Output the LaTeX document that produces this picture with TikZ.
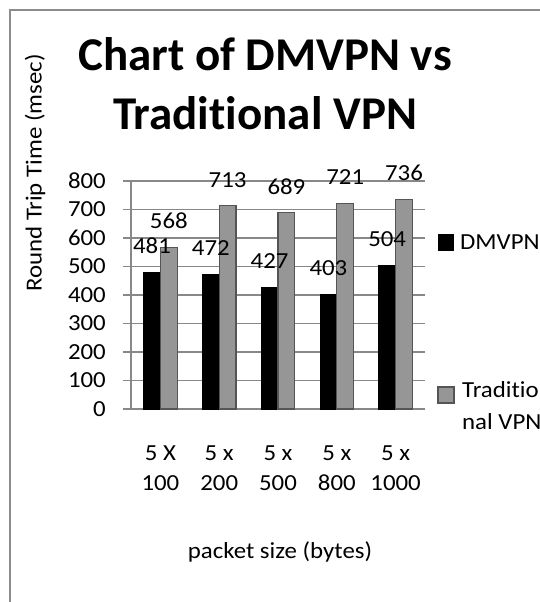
\documentclass[tikz,border=0pt]{standalone}
\usepackage{fontspec}
\setmainfont{Carlito}[Ligatures=NoCommon]
\newfontfamily\chartfont{Carlito}[FakeStretch=1.08, Ligatures=NoCommon]
\usepackage{tikz}

\definecolor{framegray}{HTML}{8C8C8C}
\definecolor{gridgray}{HTML}{888888}
\definecolor{bargray}{HTML}{969696}
\definecolor{edgegray}{HTML}{555555}

\tikzset{
	lbl/.style={font=\chartfont\fontsize{23}{28}\selectfont, inner sep=0pt},
	dmbar/.style={fill=black, draw=black, line width=0.8pt},
	tvbar/.style={fill=bargray, draw=edgegray, line width=1.2pt},
	grid line/.style={draw=gridgray, line width=1.5pt}
}

\begin{document}
\begin{tikzpicture}[x=1pt, y=-1pt]
	\clip (0,0) rectangle (540,602);
	\fill[white] (0,0) rectangle (540,602);
	% outer chart frame (runs off the right and bottom)
	\draw[framegray, line width=2pt] (10,10) rectangle (580,650);
	% title and axis titles
	\node[font=\fontsize{47}{59}\selectfont\bfseries, align=center] (title) at (265,84) {Chart of DMVPN vs\\Traditional VPN};
	\node[lbl, rotate=90] (ytitle) at (35,173) {Round Trip Time (msec)};
	\node[lbl] (xtitle) at (280,552) {packet size (bytes)};
	% plot area: one unit across = one group, one unit up = 1 msec
	\begin{scope}[shift={(131,409)}, x=58.8pt, y=0.285pt]
		\foreach \v in {0,100,...,800}{
			\draw[grid line] (-0.136,\v) -- (5,\v);
			\node[lbl, anchor=east] (tick\v) at ([xshift=-25pt]0,\v) {\v};
		}
		\draw[grid line] (0,0) -- (0,800);
		% DMVPN bars
		\draw[dmbar] (0.214,0) rectangle (0.5,481);
		\draw[dmbar] (1.214,0) rectangle (1.5,472);
		\draw[dmbar] (2.214,0) rectangle (2.5,427);
		\draw[dmbar] (3.214,0) rectangle (3.5,403);
		\draw[dmbar] (4.214,0) rectangle (4.5,504);
		% traditional VPN bars
		\draw[tvbar] (0.5,0) rectangle (0.786,568);
		\draw[tvbar] (1.5,0) rectangle (1.786,713);
		\draw[tvbar] (2.5,0) rectangle (2.786,689);
		\draw[tvbar] (3.5,0) rectangle (3.786,721);
		\draw[tvbar] (4.5,0) rectangle (4.786,736);
		% value labels
		\node[lbl] (d1) at ([yshift=26pt]0.357,481) {481};
		\node[lbl] (d2) at ([yshift=26pt]1.357,472) {472};
		\node[lbl] (d3) at ([yshift=26pt]2.357,427) {427};
		\node[lbl] (d4) at ([yshift=26pt]3.357,403) {403};
		\node[lbl] (d5) at ([yshift=26pt]4.357,504) {504};
		\node[lbl] (t1) at ([yshift=26pt]0.643,568) {568};
		\node[lbl] (t2) at ([yshift=26pt]1.643,713) {713};
		\node[lbl] (t3) at ([yshift=26pt]2.643,689) {689};
		\node[lbl] (t4) at ([yshift=26pt]3.643,721) {721};
		\node[lbl] (t5) at ([yshift=26pt]4.643,736) {736};
	\end{scope}
	% category labels
	\node[lbl, align=center, font=\chartfont\fontsize{23}{30}\selectfont] (c1) at (160.4,468) {5 X\\100};
	\node[lbl, align=center, font=\chartfont\fontsize{23}{30}\selectfont] (c2) at (219.2,468) {5 x\\200};
	\node[lbl, align=center, font=\chartfont\fontsize{23}{30}\selectfont] (c3) at (278.0,468) {5 x\\500};
	\node[lbl, align=center, font=\chartfont\fontsize{23}{30}\selectfont] (c4) at (336.8,468) {5 x\\800};
	\node[lbl, align=center, font=\chartfont\fontsize{23}{30}\selectfont] (c5) at (395.6,468) {5 x\\1000};
	% legend
	\draw[dmbar] (438,234) rectangle (453,250);
	\node[lbl, anchor=west] (leg1) at (460,242) {DMVPN};
	\draw[tvbar] (438,387) rectangle (454,403);
	\node[lbl, anchor=north west, align=left, font=\chartfont\fontsize{23}{32}\selectfont] (leg2) at (462,381) {Traditio\\nal VPN};
\end{tikzpicture}
\end{document}
